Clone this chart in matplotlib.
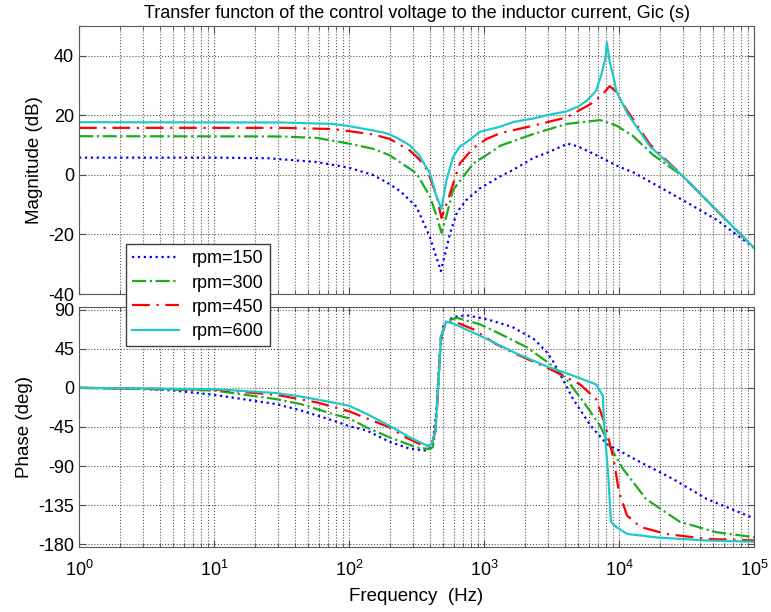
import numpy as np
import matplotlib
matplotlib.use('Agg')
import matplotlib.pyplot as plt
from matplotlib.ticker import LogLocator, NullFormatter

plt.rcParams['font.family'] = ['Liberation Sans', 'DejaVu Sans']
plt.rcParams['mathtext.fontset'] = 'custom'
plt.rcParams['mathtext.rm'] = 'Liberation Sans'
plt.rcParams['axes.unicode_minus'] = False

# --- Magnitude data (Hz, dB) ---
mag_f_150 = [1, 10, 25, 58, 100, 150, 190, 240, 316, 398, 479, 562, 631, 741,
             933, 1318, 1660, 2344, 2884, 4169, 5012, 7244, 10000, 12589,
             29512, 52481, 100000]
mag_150 = [5.8, 5.8, 5.6, 4.3, 2.4, 0, -2.5, -5.5, -10.7, -21, -32.3, -19.4,
           -12.5, -8.4, -4.5, -0.5, 1.8, 5.8, 7.3, 10.5, 9.5, 6, 2.7, 1,
           -8.4, -15, -24.5]

mag_f_300 = [1, 32, 58, 100, 150, 200, 263, 316, 398, 447, 484, 525, 589, 832,
             1175, 1318, 2344, 4074, 7244, 9550, 12589, 17783, 30200, 52481,
             100000]
mag_300 = [13.0, 12.9, 12.4, 10.5, 8.8, 6.6, 3, 0.5, -7.3, -14, -19.5, -14,
           -5.1, 3.8, 8.2, 9.8, 13.8, 17.1, 18.4, 16.6, 13.2, 6.8, -0.7, -11.8,
           -24.5]

mag_f_450 = [1, 32, 76, 100, 150, 200, 282, 330, 380, 447, 484, 550, 661, 832,
             1047, 1318, 2344, 4074, 6166, 7586, 8511, 9333, 11482, 16982,
             30200, 52481, 100000]
mag_450 = [15.8, 15.8, 15.4, 14.7, 13.6, 12.1, 8.2, 5.3, 1.6, -7.3, -14.5,
           -7.3, 3.8, 9, 12.1, 14, 16.6, 19.3, 23.8, 27.1, 29.8, 28.3, 21.6,
           10.2, -0.7, -11.8, -24.5]

mag_f_600 = [1, 32, 76, 100, 135, 178, 200, 240, 282, 330, 398, 437, 484, 525,
             589, 661, 741, 933, 1318, 1660, 2344, 2884, 4074, 5012, 5754, 6761,
             7413, 7943, 8128, 8511, 9120, 9550, 11482, 16982, 30200, 52481,
             100000]
mag_600 = [17.7, 17.6, 17.1, 16.4, 15.3, 14.3, 13.6, 11.8, 9.9, 6.6, 0.5, -6.2,
           -11.5, -2, 6, 9.5, 11, 14.5, 16.2, 17.8, 19, 20, 21.3, 23, 24.9,
           28.2, 33.8, 39.3, 44.5, 38.2, 32.7, 28.2, 20.8, 9.5, -0.7, -11.8,
           -24.5]

# --- Phase data (Hz, deg) ---
ph_f_150 = [1, 2.5, 5, 10, 29, 44, 76, 100, 135, 200, 282, 380, 417, 447, 468,
            501, 589, 741, 1047, 1622, 2344, 2884, 3236, 4074, 4571, 6166,
            8128, 14454, 25119, 44668, 100000]
ph_150 = [0, -0.5, -3, -8, -18.7, -26, -37.5, -44, -49, -62, -70, -72.3, -66,
          -20, 38, 73, 81.5, 83.5, 79, 70, 56, 42, 31, 2, -13, -43.6, -64.6,
          -85.6, -104.8, -127.8, -150]

ph_f_300 = [1, 10, 29, 44, 76, 100, 135, 200, 316, 398, 417, 437, 457, 479,
            525, 631, 933, 1318, 2089, 3236, 4074, 5495, 7244, 8511, 10715,
            15849, 28184, 52481, 100000]
ph_300 = [0, -3, -13, -18.7, -30.2, -35, -45.5, -57, -68.4, -70.5, -68, -49, 0,
          58, 77, 80.5, 73.1, 62, 46.4, 25, 10, -16.8, -43.6, -66.6, -93.3,
          -127.8, -154, -166, -171.7]

ph_f_450 = [1, 10, 29, 58, 100, 200, 263, 355, 407, 437, 457, 479, 525, 631,
            832, 1230, 1738, 3090, 5129, 6761, 7943, 9120, 10000, 11482, 14454,
            22387, 44668, 100000]
ph_450 = [0, -2, -8, -16.8, -27, -45.5, -57, -66.6, -67, -49, 0, 58, 76, 75,
          67.4, 50.2, 38.7, 21.5, 4.2, -13, -43.6, -82, -120, -147, -160,
          -168, -173.7, -175.5]

ph_f_600 = [1, 10, 29, 44, 76, 100, 135, 200, 282, 380, 407, 437, 457, 479,
            525, 589, 933, 1660, 2884, 4571, 6761, 7586, 7762, 8318, 8710, 9550,
            11482, 19055, 44668, 100000]
ph_600 = [0, -1.5, -6, -10, -16.8, -20.5, -30, -43.6, -57, -66.6, -65, -49, 0,
          58, 76, 74, 60, 41, 25, 14, 4, -9, -43, -100, -154, -160, -168, -172,
          -175.5, -177]

labels = ['rpm=150', 'rpm=300', 'rpm=450', 'rpm=600']
colors = ['#0000ff', '#1faa1f', '#ff0000', '#22c8c8']
styles = [':', '-.', (0, (8, 3, 1, 3)), '-']

fig = plt.figure(figsize=(7.71, 6.12), dpi=100)
ax1 = fig.add_axes([0.1025, 0.5196, 0.8755, 0.4379])
ax2 = fig.add_axes([0.1025, 0.1062, 0.8755, 0.3922])

mags = [(mag_f_150, mag_150), (mag_f_300, mag_300), (mag_f_450, mag_450), (mag_f_600, mag_600)]
phs = [(ph_f_150, ph_150), (ph_f_300, ph_300), (ph_f_450, ph_450), (ph_f_600, ph_600)]

for (f, m), c, ls, lab in zip(mags, colors, styles, labels):
    ax1.semilogx(f, m, color=c, linestyle=ls, linewidth=1.6, label=lab)
for (f, p), c, ls in zip(phs, colors, styles):
    ax2.semilogx(f, p, color=c, linestyle=ls, linewidth=1.6)

for ax in (ax1, ax2):
    ax.set_xlim(1, 1e5)
    ax.xaxis.set_major_locator(LogLocator(base=10, numticks=10))
    ax.xaxis.set_minor_locator(LogLocator(base=10, subs=np.arange(2, 10), numticks=50))
    ax.xaxis.set_minor_formatter(NullFormatter())
    ax.grid(True, which='major', linestyle=':', color='0.35', linewidth=0.8)
    ax.grid(True, which='minor', axis='x', linestyle=':', color='0.35', linewidth=0.8)
    ax.tick_params(which='both', direction='in', top=True, right=True,
                   labelsize=13, color='0.3')
    ax.tick_params(which='major', length=5)
    ax.tick_params(which='minor', length=3)
    for s in ax.spines.values():
        s.set_color('0.35')

# --- Magnitude ---
ax1.set_ylim(-40, 50)
ax1.set_yticks([-40, -20, 0, 20, 40])
ax1.set_xticklabels([])
ax1.set_ylabel('Magnitude (dB)', fontsize=13.5, labelpad=4)
ax1.set_title('Transfer functon of the control voltage to the inductor current, Gic (s)',
              fontsize=13, pad=6)

# --- Phase ---
ax2.set_ylim(-183, 93)
ax2.set_yticks([-180, -135, -90, -45, 0, 45, 90])
ax2.set_ylabel('Phase (deg)', fontsize=13.5, labelpad=4)
ax2.set_xlabel('Frequency  (Hz)', fontsize=13.5, labelpad=6)
ax2.tick_params(axis='x', pad=9)

leg = fig.legend(loc='upper left', bbox_to_anchor=(0.1634, 0.6013), borderaxespad=0,
                 fontsize=13, handlelength=2.6, handletextpad=0.7, labelspacing=0.4,
                 fancybox=False, framealpha=1, edgecolor='0.25', borderpad=0.35)
leg.get_frame().set_linewidth(1.0)

plt.savefig('out.png', dpi=100)
